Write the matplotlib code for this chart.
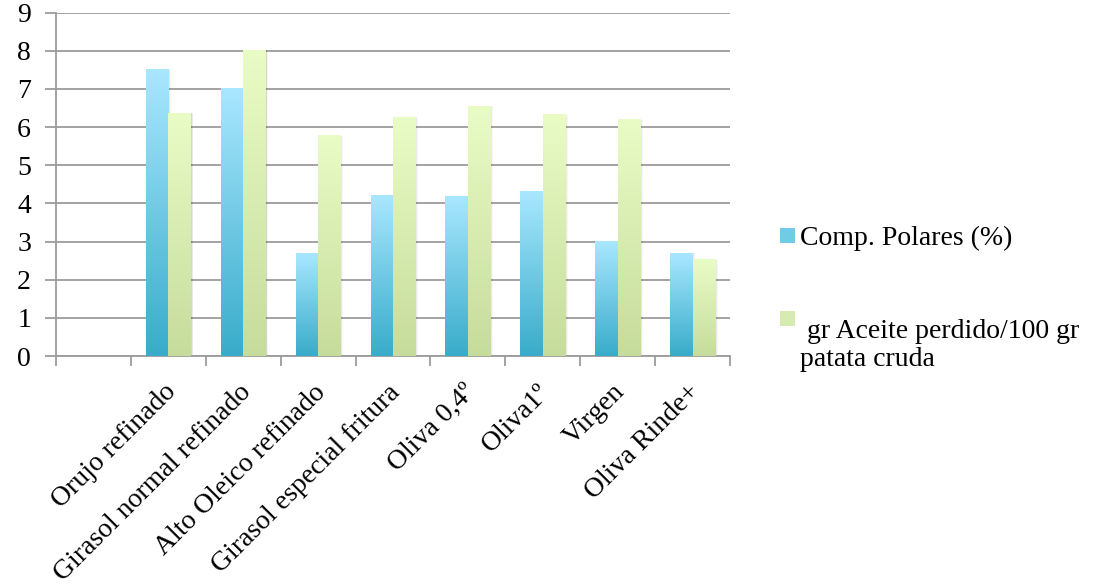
import numpy as np
import matplotlib
matplotlib.use("Agg")
import matplotlib.pyplot as plt
from matplotlib.colors import LinearSegmentedColormap
from matplotlib.patches import Rectangle

# data
categories = ["Orujo refinado", "Girasol normal refinado", "Alto Oleico refinado",
              "Girasol especial fritura", "Oliva 0,4º", "Oliva1º", "Virgen", "Oliva Rinde+"]
polares = [7.5, 7.0, 2.69, 4.22, 4.17, 4.30, 3.01, 2.70]
aceite = [6.36, 8.02, 5.77, 6.26, 6.55, 6.32, 6.19, 2.52]
series_names = ["Comp. Polares (%)", " gr Aceite perdido/100 gr\npatata cruda"]
y_ticks = list(range(0, 10))

plt.rcParams['font.family'] = ['Liberation Serif', 'DejaVu Serif']
FS = 20
GRID = '#9c9c9c'

blue_cmap = LinearSegmentedColormap.from_list('b', ['#38acca', '#a9e7ff'])
green_cmap = LinearSegmentedColormap.from_list('g', ['#c6dc9c', '#e9fcc5'])

fig = plt.figure(figsize=(11.14, 5.85), dpi=100)
ax = fig.add_axes([56 / 1114, 1 - 356 / 585, (730 - 56) / 1114, (356 - 12.7) / 585])

# first slot is empty, categories start at 1
x = np.arange(len(categories)) + 1
w = 0.30


def gradient_bars(xs, vals, cmap):
    bars = ax.bar(xs, vals, w, color='none', edgecolor='none', zorder=3)
    grad = np.linspace(0, 1, 256).reshape(-1, 1)
    for b in bars:
        x0, h = b.get_x(), b.get_height()
        # soft shadow on the right
        for k, a in enumerate([0.09, 0.05, 0.03]):
            ax.add_patch(Rectangle((x0 + 0.012 * (k + 1), 0), w, h,
                                   facecolor='#000000', alpha=a, edgecolor='none', zorder=2.5))
        ax.imshow(grad, cmap=cmap, origin='lower', aspect='auto',
                  extent=[x0, x0 + w, 0, h], zorder=3)
    return bars


gradient_bars(x - w / 2, polares, blue_cmap)
gradient_bars(x + w / 2, aceite, green_cmap)

ax.set_xlim(-0.5, len(categories) + 0.5)
ax.set_ylim(0, 9)
ax.set_yticks(y_ticks)
ax.yaxis.grid(True, color=GRID, linewidth=1.3, zorder=1)
ax.set_axisbelow(True)

ax.set_xticks(x - 0.07)
ax.set_xticklabels(categories, rotation=45, ha='right', rotation_mode='anchor', fontsize=FS)
ax.set_xticks(np.arange(-0.5, len(categories) + 1), minor=True)
ax.tick_params(axis='x', which='major', length=0, pad=17)
ax.tick_params(axis='x', which='minor', length=7, width=1.3, color=GRID)
ax.tick_params(axis='y', length=8, width=1.3, color=GRID, labelsize=FS, pad=10)

for s in ['top', 'right']:
    ax.spines[s].set_visible(False)
for s in ['left', 'bottom']:
    ax.spines[s].set_color(GRID)
    ax.spines[s].set_linewidth(1.3)

# legend, placed by hand like the reference
H = 585.0
fig.patches.append(Rectangle((780 / 1114, 1 - 243 / H), 15 / 1114, 15 / H,
                             transform=fig.transFigure, facecolor='#6fcbe6', edgecolor='none'))
fig.patches.append(Rectangle((780 / 1114, 1 - 326 / H), 15 / 1114, 15 / H,
                             transform=fig.transFigure, facecolor='#d6ebb0', edgecolor='none'))
fig.text(800 / 1114, 1 - 238 / H, series_names[0], fontsize=FS, va='center', ha='left')
fig.text(800 / 1114, 1 - 319 / H, series_names[1], fontsize=FS, va='top', ha='left',
         linespacing=1.15)

fig.savefig("out.png", dpi=100)
